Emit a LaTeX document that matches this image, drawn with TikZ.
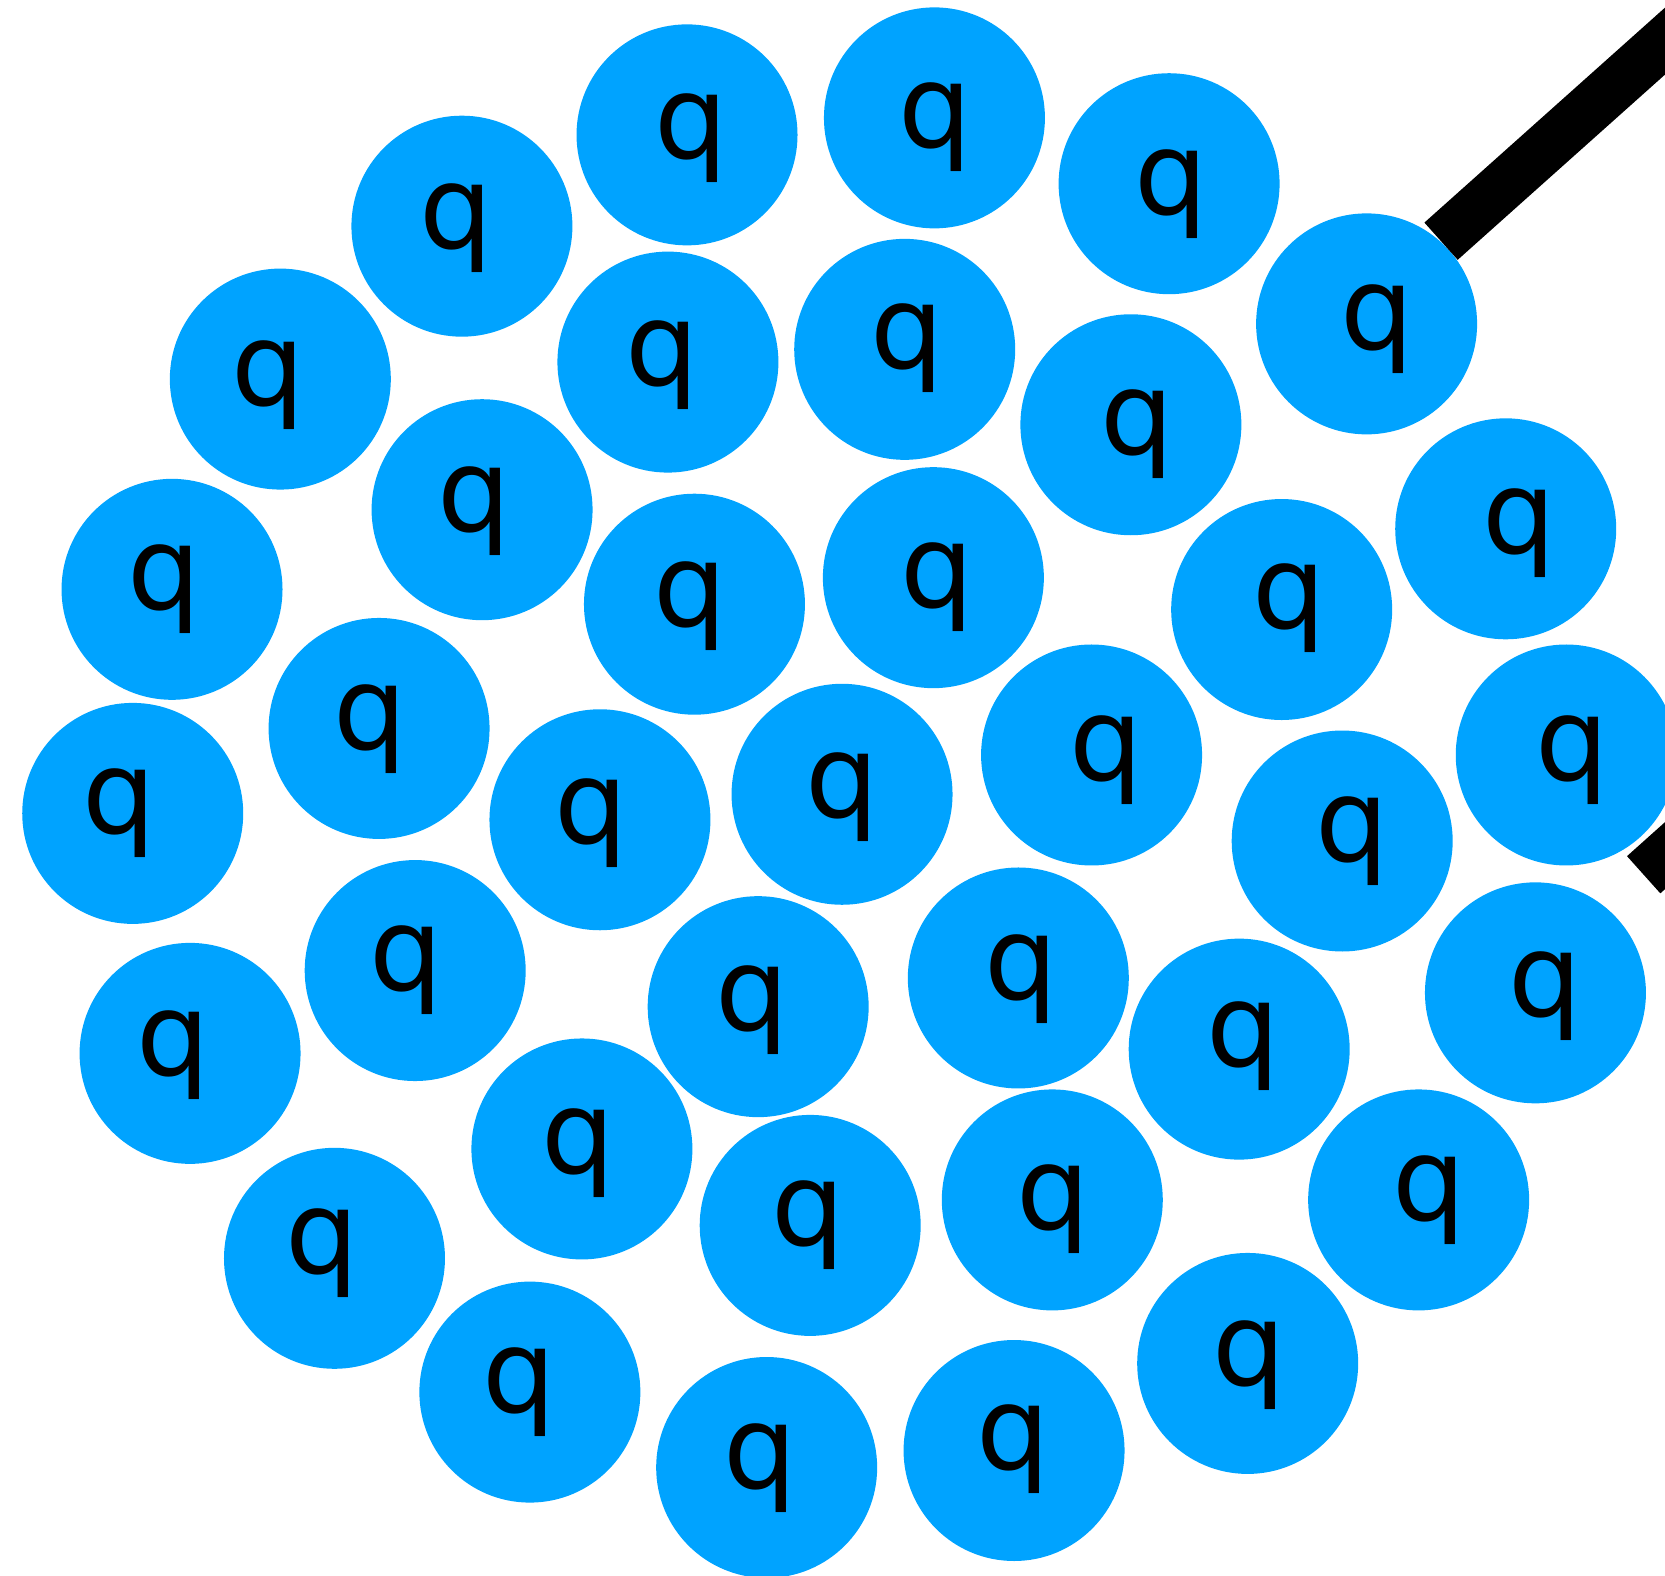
\documentclass[tikz,border=0pt]{standalone}
\usepackage{fontspec}
\setmainfont{DejaVu Sans}
\usepackage{tikz}
\definecolor{ballblue}{HTML}{00A3FF}
\tikzset{
  ball/.style={circle, fill=ballblue, inner sep=0pt, minimum size=2.08cm},
  glyph/.style={inner sep=0pt, font=\fontsize{31}{31}\selectfont},
  stick/.style={line width=0.47cm, line cap=butt}
}

\begin{document}
\begin{tikzpicture}[x=0.01cm, y=-0.01cm]
  \useasboundingbox (0,0) rectangle (1568,1484);
  \clip (0,0) rectangle (1568,1484);

  % balls
  \node[ball] (q1) at (647,127) {};
  \node[ball] (q2) at (880,111) {};
  \node[ball] (q3) at (1101,173) {};
  \node[ball] (q4) at (435,213) {};
  \node[ball] (q5) at (1287,305) {};
  \node[ball] (q6) at (264,357) {};
  \node[ball] (q7) at (629,341) {};
  \node[ball] (q8) at (852,329) {};
  \node[ball] (q9) at (1065,400) {};
  \node[ball] (q10) at (454,480) {};
  \node[ball] (q11) at (1418,498) {};
  \node[ball] (q12) at (162,555) {};
  \node[ball] (q13) at (654,569) {};
  \node[ball] (q14) at (879,544) {};
  \node[ball] (q15) at (1207,574) {};
  \node[ball] (q16) at (357,686) {};
  \node[ball] (q17) at (1028,711) {};
  \node[ball] (q18) at (1475,711) {};
  \node[ball] (q19) at (125,766) {};
  \node[ball] (q20) at (565,772) {};
  \node[ball] (q21) at (793,748) {};
  \node[ball] (q22) at (1264,792) {};
  \node[ball] (q23) at (391,914) {};
  \node[ball] (q24) at (959,921) {};
  \node[ball] (q25) at (714,948) {};
  \node[ball] (q26) at (1446,935) {};
  \node[ball] (q27) at (179,992) {};
  \node[ball] (q28) at (1167,988) {};
  \node[ball] (q29) at (548,1082) {};
  \node[ball] (q30) at (991,1130) {};
  \node[ball] (q31) at (1336,1130) {};
  \node[ball] (q32) at (315,1185) {};
  \node[ball] (q33) at (763,1154) {};
  \node[ball] (q34) at (1175,1284) {};
  \node[ball] (q35) at (499,1311) {};
  \node[ball] (q36) at (955,1366) {};
  \node[ball] (q37) at (722,1382) {};

  % labels
  \node[glyph] (l1) at (651,130) {q};
  \node[glyph] (l2) at (881,120) {q};
  \node[glyph] (l3) at (1103,183) {q};
  \node[glyph] (l4) at (430,215) {q};
  \node[glyph] (l5) at (1297,310) {q};
  \node[glyph] (l6) at (253,363) {q};
  \node[glyph] (l7) at (624,344) {q};
  \node[glyph] (l8) at (854,328) {q};
  \node[glyph] (l9) at (1071,409) {q};
  \node[glyph] (l10) at (447,481) {q};
  \node[glyph] (l11) at (1431,502) {q};
  \node[glyph] (l12) at (155,555) {q};
  \node[glyph] (l13) at (650,571) {q};
  \node[glyph] (l14) at (883,553) {q};
  \node[glyph] (l15) at (1214,573) {q};
  \node[glyph] (l16) at (349,687) {q};
  \node[glyph] (l17) at (1042,716) {q};
  \node[glyph] (l18) at (1481,716) {q};
  \node[glyph] (l19) at (112,766) {q};
  \node[glyph] (l20) at (557,775) {q};
  \node[glyph] (l21) at (793,751) {q};
  \node[glyph] (l22) at (1273,792) {q};
  \node[glyph] (l23) at (383,914) {q};
  \node[glyph] (l24) at (962,922) {q};
  \node[glyph] (l25) at (708,951) {q};
  \node[glyph] (l26) at (1455,938) {q};
  \node[glyph] (l27) at (163,994) {q};
  \node[glyph] (l28) at (1171,985) {q};
  \node[glyph] (l29) at (545,1086) {q};
  \node[glyph] (l30) at (992,1139) {q};
  \node[glyph] (l31) at (1346,1130) {q};
  \node[glyph] (l32) at (303,1180) {q};
  \node[glyph] (l33) at (761,1154) {q};
  \node[glyph] (l34) at (1176,1286) {q};
  \node[glyph] (l35) at (489,1311) {q};
  \node[glyph] (l36) at (954,1365) {q};
  \node[glyph] (l37) at (716,1383) {q};

  % sticks leaving the picture
  \coordinate (out1) at (1730,-106);
  \coordinate (out2) at (1771,624);
  \draw[stick] (q5.48) -- (out1);
  \draw[stick, shorten <=0.464cm] (q26.50) -- (out2);
\end{tikzpicture}
\end{document}
